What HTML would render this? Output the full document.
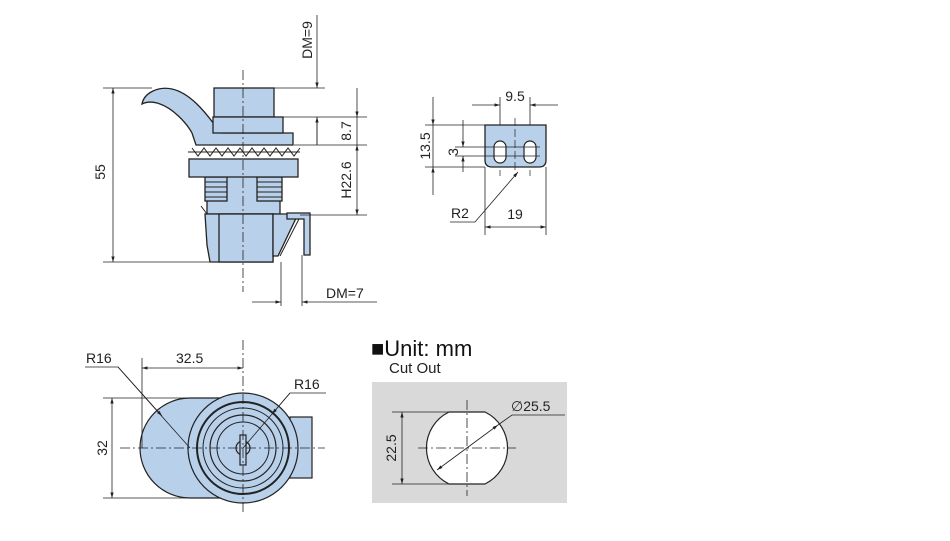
<!DOCTYPE html>
<html><head><meta charset="utf-8"><style>
html,body{margin:0;padding:0;background:#fff;}
svg{display:block;font-family:"Liberation Sans",Arial,sans-serif;}
</style></head><body>
<svg width="950" height="541" viewBox="0 0 950 541" xmlns="http://www.w3.org/2000/svg">
<defs>
<marker id="a" viewBox="0 0 10 10" refX="10" refY="5" markerWidth="7" markerHeight="7" orient="auto-start-reverse"><path d="M0,2 L10,5 L0,8 Z" fill="#222"/></marker>
</defs>
<g stroke="#222" stroke-width="0.8" fill="none">
<line x1="103" y1="88" x2="152" y2="88"/>
<line x1="103" y1="262" x2="215" y2="262"/>
<line x1="113" y1="88" x2="113" y2="262" marker-start="url(#a)" marker-end="url(#a)"/>
</g>
<g stroke="#222" stroke-width="1.3" fill="#b9d0ea">
<path d="M142,104 C144,93 158,86 172,89 C190,93 205,112 214,124 L222,133 L293,133 L293,145 L196,145 L192,133 C186,122 172,108 160,104 C152,101 146,102 142,104 Z"/>
<rect x="214" y="88" width="60" height="29"/>
<rect x="213" y="117" width="70" height="16"/>
<rect x="207" y="176" width="73" height="38"/>
<rect x="205" y="177" width="22" height="24"/>
<rect x="257" y="177" width="25" height="24"/>
<rect x="189" y="159" width="109" height="18"/>
<path d="M205,214 L273,214 L273,262 L210,262 L207,245 Z"/>
<rect x="219" y="214" width="54" height="48"/>
<path d="M273,214 L298,214 L278,256 L273,256 Z"/>
<path d="M287,213 L310,213 L310,255 L304,255 L304,219 L287,219 Z"/>
</g>
<g stroke="#222" stroke-width="1" fill="none">
<path d="M188,152 L300,152 M192,148 l6,8 l6,-8 l6,8 l6,-8 l6,8 l6,-8 l6,8 l6,-8 l6,8 l6,-8 l6,8 l6,-8 l6,8 l6,-8 l6,8 l6,-8 l6,8 l6,-8"/>
<path d="M205,182 h22 M205,187 h22 M205,192 h22 M205,197 h22 M257,182 h25 M257,187 h25 M257,192 h25 M257,197 h25"/>
<path d="M207,214 l-6,-8 M299,219 L280,256"/>
</g>
<g stroke="#222" stroke-width="0.8" fill="none">
<line x1="243" y1="70" x2="243" y2="292" stroke-dasharray="10,3,2,3"/>
<line x1="274" y1="88" x2="325" y2="88"/>
<line x1="283" y1="117" x2="367" y2="117"/>
<line x1="294" y1="145" x2="367" y2="145"/>
<line x1="300" y1="215" x2="367" y2="215"/>
<line x1="317" y1="15" x2="317" y2="88" marker-end="url(#a)"/>
<line x1="317" y1="117" x2="317" y2="145"/>
<line x1="317" y1="145" x2="317" y2="117" marker-end="url(#a)"/>
<line x1="357" y1="88" x2="357" y2="117" marker-end="url(#a)"/>
<line x1="357" y1="117" x2="357" y2="145"/>
<line x1="357" y1="145" x2="357" y2="215" marker-start="url(#a)" marker-end="url(#a)"/>
<line x1="281" y1="262" x2="281" y2="306"/>
<line x1="302" y1="255" x2="302" y2="306"/>
<line x1="252" y1="302" x2="281" y2="302" marker-end="url(#a)"/>
<line x1="377" y1="302" x2="302" y2="302" marker-end="url(#a)"/>
</g>
<g font-size="14" fill="#222">
<text transform="translate(105,172) rotate(-90)" text-anchor="middle">55</text>
<text transform="translate(312,40) rotate(-90)" text-anchor="middle">DM=9</text>
<text transform="translate(351,131) rotate(-90)" text-anchor="middle">8.7</text>
<text transform="translate(351,180) rotate(-90)" text-anchor="middle">H22.6</text>
<text x="326" y="298">DM=7</text>
</g>
<!-- bracket -->
<g stroke="#222" stroke-width="0.8" fill="none">
<line x1="425" y1="125" x2="485" y2="125"/>
<line x1="425" y1="167" x2="485" y2="167"/>
<line x1="433" y1="97" x2="433" y2="125" marker-end="url(#a)"/>
<line x1="433" y1="195" x2="433" y2="167" marker-end="url(#a)"/>
<line x1="433" y1="125" x2="433" y2="167"/>
<line x1="463" y1="120" x2="463" y2="147" marker-end="url(#a)"/>
<line x1="463" y1="172" x2="463" y2="156" marker-end="url(#a)"/>
<line x1="472" y1="105" x2="500" y2="105" marker-end="url(#a)"/>
<line x1="558" y1="105" x2="530" y2="105" marker-end="url(#a)"/>
<line x1="500" y1="97" x2="500" y2="125"/>
<line x1="530" y1="97" x2="530" y2="125"/>
<line x1="485" y1="167" x2="485" y2="235"/>
<line x1="546" y1="167" x2="546" y2="235"/>
<line x1="485" y1="227" x2="546" y2="227" marker-start="url(#a)" marker-end="url(#a)"/>
<path d="M450,222 L475,222 L518,172" marker-end="url(#a)"/>
</g>
<path d="M485,125 H546 V160 Q546,167 539,167 H492 Q485,167 485,160 Z" fill="#b9d0ea" stroke="#222" stroke-width="1.3"/>
<g stroke="#222" stroke-width="1.2" fill="#fff">
<rect x="494" y="141" width="12" height="22" rx="6"/>
<rect x="524" y="141" width="12" height="22" rx="6"/>
</g>
<g stroke="#222" stroke-width="0.7" fill="none">
<line x1="455" y1="147" x2="540" y2="147"/>
<line x1="455" y1="156" x2="540" y2="156"/>
<line x1="515" y1="118" x2="515" y2="170" stroke-dasharray="8,3"/>
<line x1="500" y1="170" x2="500" y2="176"/><line x1="530" y1="170" x2="530" y2="176"/>
</g>
<g font-size="14" fill="#222">
<text transform="translate(430,146) rotate(-90)" text-anchor="middle">13.5</text>
<text transform="translate(458,152) rotate(-90)" text-anchor="middle">3</text>
<text x="515" y="101" text-anchor="middle">9.5</text>
<text x="515" y="219" text-anchor="middle">19</text>
<text x="451" y="218">R2</text>
</g>
<!-- front view -->
<g stroke="#222" stroke-width="1.2" fill="#b9d0ea">
<rect x="290" y="417" width="22" height="61"/>
<path d="M190,398 L243,398 L243,498 L190,498 A50,50 0 0 1 190,398 Z"/>
<circle cx="243" cy="448" r="55"/>
</g>
<g stroke="#222" fill="none">
<circle cx="243" cy="448" r="46" stroke-width="2"/>
<circle cx="243" cy="448" r="40" stroke-width="1"/>
<circle cx="243" cy="448" r="33" stroke-width="1.2"/>
<circle cx="243" cy="448" r="26" stroke-width="1"/>
<circle cx="243" cy="448" r="7" stroke-width="1.2"/>
<rect x="240" y="435" width="6" height="30" fill="#b9d0ea" stroke-width="1.2"/>
</g>
<g stroke="#222" stroke-width="0.8" fill="none">
<line x1="120" y1="448" x2="325" y2="448" stroke-dasharray="10,3,2,3"/>
<line x1="243" y1="340" x2="243" y2="515" stroke-dasharray="10,3,2,3"/>
<line x1="142" y1="358" x2="142" y2="448"/>
<line x1="142" y1="368" x2="243" y2="368" marker-start="url(#a)" marker-end="url(#a)"/>
<line x1="103" y1="398" x2="190" y2="398"/>
<line x1="103" y1="498" x2="190" y2="498"/>
<line x1="112" y1="398" x2="112" y2="498" marker-start="url(#a)" marker-end="url(#a)"/>
<path d="M85,367 L118,367 L190,448"/>
<line x1="118" y1="367" x2="162" y2="416" marker-end="url(#a)"/>
<path d="M326,393 L290,393 L243,448"/>
<line x1="290" y1="393" x2="272" y2="414" marker-end="url(#a)"/>
</g>
<g font-size="14" fill="#222">
<text x="86" y="363">R16</text>
<text x="176" y="363">32.5</text>
<text x="294" y="389">R16</text>
<text transform="translate(107,448) rotate(-90)" text-anchor="middle">32</text>
</g>
<!-- cut out -->
<text x="371" y="356" font-size="22" fill="#111">■Unit: mm</text>
<text x="389" y="373" font-size="15" fill="#222">Cut Out</text>
<rect x="372" y="382" width="195" height="121" fill="#d9d9d9"/>
<path d="M449,412 L485,412 A40,40 0 0 1 485,484 L449,484 A40,40 0 0 1 449,412 Z" fill="#fff" stroke="#222" stroke-width="1.2"/>
<g stroke="#222" stroke-width="0.8" fill="none">
<line x1="418" y1="448" x2="516" y2="448" stroke-dasharray="10,3,2,3"/>
<line x1="467" y1="400" x2="467" y2="496" stroke-dasharray="10,3,2,3"/>
<line x1="392" y1="412" x2="449" y2="412"/>
<line x1="392" y1="484" x2="449" y2="484"/>
<line x1="402" y1="412" x2="402" y2="484" marker-start="url(#a)" marker-end="url(#a)"/>
<line x1="437" y1="470" x2="498" y2="425" marker-start="url(#a)" marker-end="url(#a)"/>
<path d="M498,425 L512,415 L565,415"/>
</g>
<g font-size="14" fill="#222">
<text x="511" y="411">∅25.5</text>
<text transform="translate(396,448) rotate(-90)" text-anchor="middle">22.5</text>
</g>
</svg>
</body></html>
